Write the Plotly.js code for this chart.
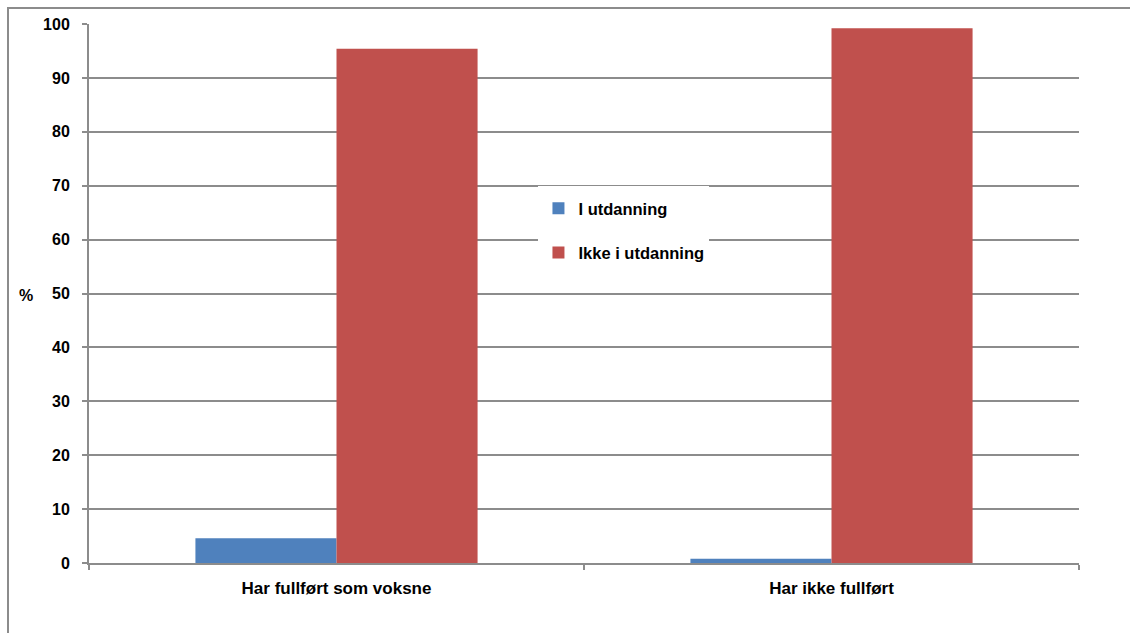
<!DOCTYPE html>
<html>
<head>
<meta charset="utf-8">
<script src="https://cdn.plot.ly/plotly-3.0.1.min.js"></script>
<style>
  html, body { margin: 0; padding: 0; background: #fff; }
  #wrap { position: relative; width: 1130px; height: 633px; overflow: hidden; }
  #chart { position: absolute; left: 0; top: 0; width: 1130px; height: 633px; }
  #frame { position: absolute; left: 7px; top: 7px; width: 1200px; height: 700px;
           border-left: 2px solid #8c8c8c; border-top: 2px solid #8c8c8c; pointer-events: none; }
</style>
</head>
<body>
<div id="wrap">
  <div id="chart"></div>
  <div id="frame"></div>
</div>
<script>
const categories = ["Har fullført som voksne", "Har ikke fullført"];
const seriesNames = ["I utdanning", "Ikke i utdanning"];
const iUtdanning = [4.6, 0.8];
const ikkeIUtdanning = [95.4, 99.2];
const yTicks = [0, 10, 20, 30, 40, 50, 60, 70, 80, 90, 100];

const fam = "Liberation Sans, Arial, sans-serif";
const yFont = { family: fam, size: 16, color: "#000", weight: "bold" };
const xFont = { family: fam, size: 17, color: "#000", weight: "bold" };
const legFont = { family: fam, size: 16.5, color: "#000", weight: "bold" };

const traces = [
  { type: "bar", name: seriesNames[0], x: categories, y: iUtdanning,
    marker: { color: "#4F81BD", line: { width: 0 } }, legendgroup: "a" },
  { type: "bar", name: seriesNames[1], x: categories, y: ikkeIUtdanning,
    marker: { color: "#C0504D", line: { width: 0 } }, legendgroup: "b" }
];

const layout = {
  width: 1130, height: 633,
  margin: { l: 89, r: 51, t: 24, b: 70 },
  paper_bgcolor: "#fff", plot_bgcolor: "#fff",
  font: yFont,
  barmode: "group", bargap: 0.43, bargroupgap: 0,
  showlegend: true,
  legend: {
    x: 0.454, y: 0.70, xanchor: "left", yanchor: "top",
    bgcolor: "#fff", borderwidth: 0,
    font: legFont,
    title: { text: "\u00a0", font: { family: fam, size: 4 } },
    traceorder: "grouped", tracegroupgap: 20,
    itemclick: false
  },
  xaxis: {
    type: "category",
    showgrid: false, zeroline: false,
    showline: true, linecolor: "#8c8c8c", linewidth: 2,
    ticks: "outside", tickson: "boundaries", ticklen: 5, tickwidth: 2, tickcolor: "#8c8c8c",
    ticklabelstandoff: 9,
    tickfont: xFont
  },
  yaxis: {
    range: [0, 100],
    tickvals: yTicks, ticktext: yTicks.map(String),
    showgrid: true, gridcolor: "#8c8c8c", gridwidth: 2,
    zeroline: false,
    showline: true, linecolor: "#8c8c8c", linewidth: 2,
    ticks: "outside", ticklen: 5, tickwidth: 2, tickcolor: "#8c8c8c",
    ticklabelstandoff: 9,
    tickfont: yFont
  },
  annotations: [{
    text: "%", xref: "paper", yref: "paper", x: -0.064, y: 0.497,
    xanchor: "center", yanchor: "middle", showarrow: false,
    font: yFont
  }]
};

Plotly.newPlot("chart", traces, layout, { displayModeBar: false, staticPlot: true });
</script>
</body>
</html>
